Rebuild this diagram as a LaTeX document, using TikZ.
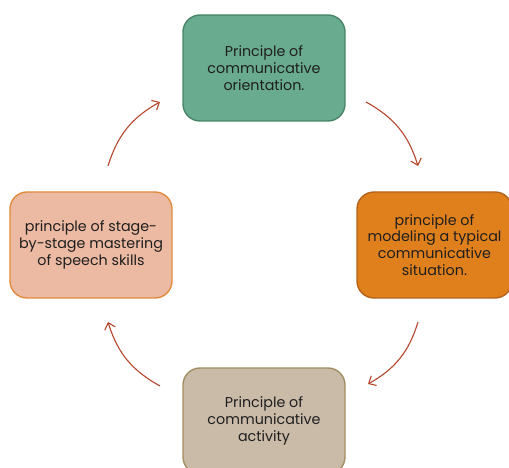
\documentclass[tikz,border=0pt]{standalone}
\usepackage{fontspec}
\setmainfont{Poppins}
\usetikzlibrary{arrows.meta,positioning}
\definecolor{tealbox}{HTML}{69AB8E}
\definecolor{tealline}{HTML}{4A8469}
\definecolor{orangebox}{HTML}{E0801C}
\definecolor{orangeline}{HTML}{B4621A}
\definecolor{peachbox}{HTML}{ECBAA3}
\definecolor{peachline}{HTML}{E08B3C}
\definecolor{sandbox}{HTML}{C9BBA8}
\definecolor{sandline}{HTML}{A48F62}
\definecolor{arrowred}{HTML}{B4462B}

\begin{document}
\begin{tikzpicture}[x=1pt,y=1pt,
    box/.style={draw,line width=1.4pt,rounded corners=17pt,align=center,
      minimum width=162pt,minimum height=106pt,inner sep=2pt,
      font=\fontsize{14.3}{16.8}\selectfont,text=black!88},
    cyc/.style={arrowred,line width=1.1pt,-{Straight Barb[length=6pt,width=11pt]}}]
    \useasboundingbox (0,0) rectangle (509,468);
    \node (n1) [box,fill=tealbox,draw=tealline] at (264,400) {Principle of\\communicative\\orientation.};
    \node (n2) [box,fill=orangebox,draw=orangeline,minimum width=155pt] at (434.5,223) {principle of\\modeling a typical\\communicative\\situation.};
    \node (n3) [box,fill=sandbox,draw=sandline] at (264,47) {Principle of\\communicative\\activity};
    \node (n4) [box,fill=peachbox,draw=peachline] at (91,223) {principle of stage-\\by-stage mastering\\of speech skills};
    \coordinate (c1) at (366,366);
    \coordinate (c2) at (418,302);
    \coordinate (c3) at (418,146);
    \coordinate (c4) at (368,84);
    \coordinate (c5) at (160,82);
    \coordinate (c6) at (108,146);
    \coordinate (c7) at (108,302);
    \coordinate (c8) at (160,366);
    \draw[cyc] (c1) to[bend left=22] (c2);
    \draw[cyc] (c3) to[bend left=22] (c4);
    \draw[cyc] (c5) to[bend left=22] (c6);
    \draw[cyc] (c7) to[bend left=22] (c8);
  \end{tikzpicture}
\end{document}
